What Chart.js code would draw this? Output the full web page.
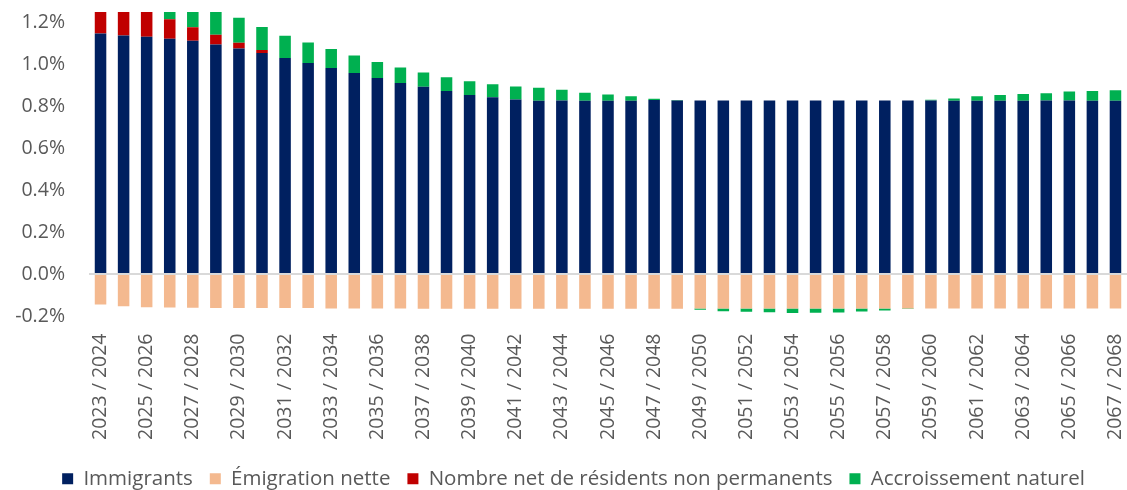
<!DOCTYPE html>
<html>
<head>
<meta charset="utf-8">
<script src="https://cdn.jsdelivr.net/npm/chart.js@4/dist/chart.umd.min.js"></script>
<style>
  html, body { margin: 0; padding: 0; background: #ffffff; }
  #wrap { width: 1127px; height: 490px; position: relative; }
</style>
</head>
<body>
<div id="wrap"><canvas id="c" width="1127" height="490"></canvas></div>
<script>
const categories = [
  '2023 / 2024','2024 / 2025','2025 / 2026','2026 / 2027','2027 / 2028','2028 / 2029',
  '2029 / 2030','2030 / 2031','2031 / 2032','2032 / 2033','2033 / 2034','2034 / 2035',
  '2035 / 2036','2036 / 2037','2037 / 2038','2038 / 2039','2039 / 2040','2040 / 2041',
  '2041 / 2042','2042 / 2043','2043 / 2044','2044 / 2045','2045 / 2046','2046 / 2047',
  '2047 / 2048','2048 / 2049','2049 / 2050','2050 / 2051','2051 / 2052','2052 / 2053',
  '2053 / 2054','2054 / 2055','2055 / 2056','2056 / 2057','2057 / 2058','2058 / 2059',
  '2059 / 2060','2060 / 2061','2061 / 2062','2062 / 2063','2063 / 2064','2064 / 2065',
  '2065 / 2066','2066 / 2067','2067 / 2068'
];

const immigrants = [
  1.148, 1.138, 1.132, 1.122, 1.113, 1.095, 1.076, 1.055, 1.031, 1.007, 0.983, 0.959,
  0.935, 0.911, 0.894, 0.873, 0.854, 0.843, 0.833, 0.827, 0.828, 0.827, 0.827, 0.827,
  0.830, 0.828, 0.828, 0.828, 0.828, 0.828, 0.828, 0.828, 0.828, 0.828, 0.828, 0.828,
  0.828, 0.827, 0.827, 0.827, 0.827, 0.828, 0.828, 0.827, 0.827
];

const emigrationNette = [
  -0.145, -0.153, -0.158, -0.159, -0.161, -0.162, -0.162, -0.162, -0.162, -0.162, -0.164, -0.164,
  -0.164, -0.164, -0.165, -0.165, -0.165, -0.165, -0.165, -0.165, -0.165, -0.165, -0.165, -0.165,
  -0.165, -0.165, -0.164, -0.164, -0.164, -0.164, -0.164, -0.164, -0.164, -0.164, -0.164, -0.164,
  -0.164, -0.164, -0.164, -0.164, -0.164, -0.164, -0.164, -0.164, -0.164
];

const residentsNonPermanents = [
  0.22, 0.18, 0.14, 0.093, 0.064, 0.046, 0.027, 0.014, 0, 0, 0, 0,
  0, 0, 0, 0, 0, 0, 0, 0, 0, 0, 0, 0,
  0, 0, 0, 0, 0, 0, 0, 0, 0, 0, 0, 0,
  0, 0, 0, 0, 0, 0, 0, 0, 0
];

const accroissementNaturel = [
  0.11, 0.115, 0.12, 0.12, 0.125, 0.125, 0.120, 0.110, 0.106, 0.098, 0.091, 0.083,
  0.077, 0.074, 0.067, 0.066, 0.066, 0.062, 0.062, 0.062, 0.051, 0.038, 0.030, 0.021,
  0.006, 0.002, -0.006, -0.013, -0.016, -0.018, -0.022, -0.021, -0.019, -0.014, -0.010, -0.003,
  0.003, 0.011, 0.021, 0.027, 0.032, 0.035, 0.043, 0.046, 0.050
];

const yTickValues = [-0.2, 0.0, 0.2, 0.4, 0.6, 0.8, 1.0, 1.2];

const seriesNames = ['Immigrants', 'Émigration nette', 'Nombre net de résidents non permanents', 'Accroissement naturel'];
const seriesColors = ['#002060', '#F4B98F', '#C00000', '#00B050'];

const textColor = '#595959';
Chart.defaults.font.family = '"Open Sans", "Noto Sans", sans-serif';
Chart.defaults.color = textColor;

const seriesData = [immigrants, emigrationNette, residentsNonPermanents, accroissementNaturel];

function zeroPadding(scale) {
  scale.paddingTop = 0;
  scale.paddingBottom = 0;
  scale.paddingLeft = 0;
  scale.paddingRight = 0;
}

const legendNudge = {
  id: 'legendNudge',
  afterLayout(chart) {
    const lg = chart.legend;
    if (!lg) return;
    lg.left += 10; lg.right += 10;
    lg.top += 9; lg.bottom += 9;
  }
};

new Chart(document.getElementById('c'), {
  type: 'bar',
  data: {
    labels: categories,
    datasets: seriesData.map((d, k) => ({
      label: seriesNames[k],
      data: d,
      backgroundColor: seriesColors[k],
      borderWidth: 0,
      barPercentage: 0.5,
      categoryPercentage: 1.0
    }))
  },
  plugins: [legendNudge],
  options: {
    responsive: false,
    animation: false,
    layout: { padding: { top: 12, right: 0, bottom: 0, left: 0 } },
    plugins: {
      tooltip: { enabled: false },
      legend: {
        position: 'bottom',
        labels: {
          boxWidth: 11,
          boxHeight: 11,
          padding: 17,
          color: textColor,
          font: { size: 20.5 }
        }
      }
    },
    scales: {
      x: {
        stacked: true,
        grid: { display: false, drawTicks: false },
        border: { display: false },
        ticks: {
          autoSkip: false,
          minRotation: 90,
          maxRotation: 90,
          padding: 7,
          color: textColor,
          font: { size: 19.5 },
          callback: function (value, index) {
            return index % 2 === 0 ? this.getLabelForValue(value) : '';
          }
        },
        afterFit: function (scale) { scale.height = 116; zeroPadding(scale); }
      },
      y: {
        stacked: true,
        min: -0.25,
        max: 1.25,
        afterBuildTicks: function (scale) {
          scale.ticks = yTickValues.map(v => ({ value: v }));
        },
        afterFit: function (scale) { scale.width = 89; zeroPadding(scale); },
        grid: {
          drawTicks: false,
          lineWidth: 2,
          color: function (ctx) {
            return (ctx.tick && Math.abs(ctx.tick.value) < 1e-9) ? '#D9D9D9' : 'rgba(0,0,0,0)';
          }
        },
        border: { display: false },
        ticks: {
          padding: 24,
          color: textColor,
          font: { size: 19.5 },
          callback: function (value) { return value.toFixed(1) + '%'; }
        }
      }
    }
  }
});
</script>
</body>
</html>
